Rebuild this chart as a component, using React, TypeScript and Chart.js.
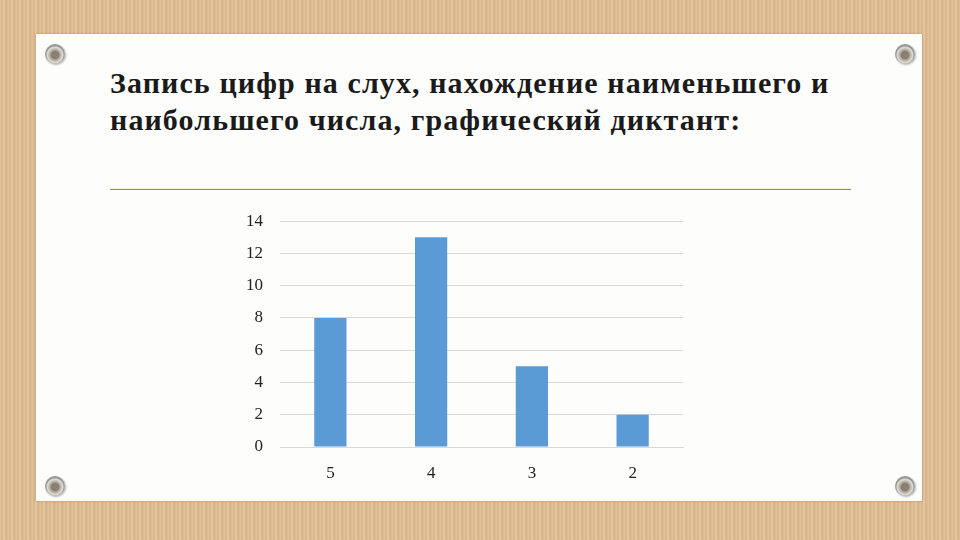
import React, { useEffect, useRef } from "react";
import { Chart, registerables } from "chart.js";

Chart.register(...registerables);

const categories = ["5", "4", "3", "2"];
const values = [8, 13, 5, 2];
const yTicks = [0, 2, 4, 6, 8, 10, 12, 14];
const titleLines = [
  "Запись цифр на слух, нахождение наименьшего и",
  "наибольшего числа, графический диктант:",
];

function Pin({ x, y }: { x: number; y: number }) {
  return (
    <div
      style={{
        position: "absolute",
        left: x - 10,
        top: y - 10,
        width: 20,
        height: 20,
        borderRadius: "50%",
        background:
          "radial-gradient(circle at 50% 55%, #8a8070 0 4px, #b9b2a6 5px 6px, #d8d6d2 7px 8px, #9c9a96 9px 10px)",
        boxShadow: "1px 1px 2px rgba(0,0,0,0.3)",
      }}
    />
  );
}

export default function App() {
  const ref = useRef<HTMLCanvasElement>(null);

  useEffect(() => {
    if (!ref.current) return;
    const font = { family: "'Liberation Serif', serif", size: 17 };
    const chart = new Chart(ref.current, {
      type: "bar",
      data: {
        labels: categories,
        datasets: [
          {
            data: values,
            backgroundColor: "#5b9bd5",
            barPercentage: 0.32,
            categoryPercentage: 1,
          },
        ],
      },
      options: {
        animation: false,
        responsive: false,
        maintainAspectRatio: false,
        layout: { padding: { top: 16, right: 17, left: 0, bottom: 0 } },
        plugins: {
          legend: { display: false },
          tooltip: { enabled: false },
        },
        scales: {
          x: {
            grid: { display: false },
            border: { display: true, color: "#d9d9d9", width: 1 },
            ticks: { color: "#222", font, padding: 8 },
            afterFit: (s: any) => {
              s.height = 43;
            },
          },
          y: {
            min: 0,
            max: 14,
            afterBuildTicks: (s: any) => {
              s.ticks = yTicks.map((v) => ({ value: v }));
            },
            grid: { color: "#d9d9d9", drawTicks: false, lineWidth: 1 },
            border: { display: false },
            ticks: { color: "#222", font, padding: 17 },
            afterFit: (s: any) => {
              s.width = 60;
            },
          },
        },
      },
    });
    return () => chart.destroy();
  }, []);

  return (
    <div
      style={{
        position: "fixed",
        left: 0,
        top: 0,
        width: 960,
        height: 540,
        overflow: "hidden",
        background:
          "repeating-linear-gradient(90deg, #e6c7a0 0px, #d7b286 2px, #e8cba6 4px, #d5b084 6px, #e3c29a 8px)",
      }}
    >
      <div
        style={{
          position: "absolute",
          left: 36,
          top: 34,
          width: 886,
          height: 467,
          background: "#fdfdfc",
          boxShadow: "0 0 2px rgba(120,90,50,0.5)",
        }}
      />
      <Pin x={55} y={54} />
      <Pin x={905} y={54} />
      <Pin x={55} y={486} />
      <Pin x={905} y={486} />
      <div
        style={{
          position: "absolute",
          left: 110,
          top: 64,
          fontFamily: "'Liberation Serif', serif",
          fontWeight: "bold",
          fontSize: 30,
          letterSpacing: "1.1px",
          lineHeight: "37px",
          color: "#1a1a1a",
          whiteSpace: "nowrap",
        }}
      >
        {titleLines.map((t, i) => (
          <div key={i}>{t}</div>
        ))}
      </div>
      <div
        style={{
          position: "absolute",
          left: 110,
          top: 189,
          width: 741,
          height: 1,
          background: "#8f9070",
          boxShadow: "0 -1px 1px rgba(240,240,200,0.8)",
        }}
      />
      <canvas
        ref={ref}
        width={480}
        height={296}
        style={{ position: "absolute", left: 220, top: 194, width: 480, height: 296 }}
      />
    </div>
  );
}
